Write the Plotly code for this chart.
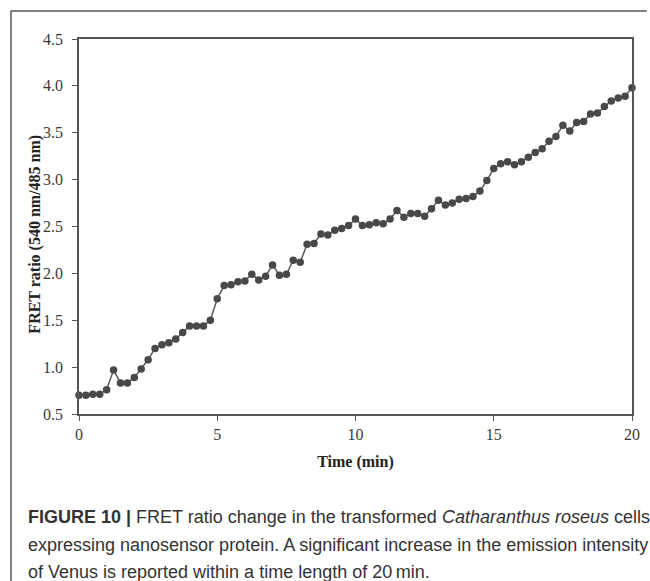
import plotly.graph_objects as go

time_min = [i * 0.25 for i in range(81)]
fret_ratio = [
    0.70, 0.70, 0.71, 0.71, 0.76, 0.97, 0.83, 0.83, 0.89, 0.98,
    1.08, 1.20, 1.24, 1.26, 1.30, 1.37, 1.44, 1.44, 1.44, 1.50,
    1.73, 1.87, 1.88, 1.91, 1.92, 1.99, 1.93, 1.97, 2.09, 1.98,
    1.99, 2.14, 2.12, 2.31, 2.32, 2.42, 2.41, 2.46, 2.48, 2.51,
    2.58, 2.51, 2.52, 2.54, 2.53, 2.58, 2.67, 2.60, 2.64, 2.64,
    2.61, 2.69, 2.78, 2.73, 2.75, 2.79, 2.80, 2.82, 2.88, 2.99,
    3.12, 3.17, 3.19, 3.16, 3.19, 3.24, 3.29, 3.33, 3.41, 3.46,
    3.58, 3.52, 3.61, 3.62, 3.70, 3.71, 3.78, 3.84, 3.87, 3.89,
    3.98,
]
x_ticks = [0, 5, 10, 15, 20]
y_ticks = [0.5, 1.0, 1.5, 2.0, 2.5, 3.0, 3.5, 4.0, 4.5]

W, H = 650, 581
ML, MR, MT, MB = 79, 10, 39, 167
PW, PH = W - ML - MR, H - MT - MB


def px(x):
    return (x - ML) / PW


def py(y):
    return (H - MB - y) / PH


fig = go.Figure()
fig.add_trace(go.Scatter(
    x=time_min, y=fret_ratio, mode="lines+markers",
    line=dict(color="#595959", width=1.5),
    marker=dict(color="#484848", size=7.5),
    cliponaxis=False, showlegend=False,
))

serif = "Liberation Serif, Times New Roman, serif"
axis_font = dict(family=serif, size=16, color="#3a3a3a")
title_font = dict(family=serif, size=16, color="#222222")

fig.update_xaxes(
    range=[0, 20], tickvals=x_ticks, ticktext=[str(v) for v in x_ticks],
    showline=True, linecolor="#555555", linewidth=1.5, mirror=True,
    ticks="outside", ticklen=5, tickcolor="#555555", tickwidth=1.2,
    showgrid=False, zeroline=False, tickfont=axis_font,
    title=dict(text="<b>Time (min)</b>", font=title_font, standoff=14),
)
fig.update_yaxes(
    range=[0.5, 4.5], tickvals=y_ticks, ticktext=[f"{v:.1f}" for v in y_ticks],
    showline=True, linecolor="#555555", linewidth=1.5, mirror=True,
    ticks="outside", ticklen=5, tickcolor="#555555", tickwidth=1.2,
    ticklabelstandoff=6,
    showgrid=False, zeroline=False, tickfont=axis_font,
)

fig.add_annotation(
    x=px(34), y=py(234), xref="paper", yref="paper",
    text="<b>FRET ratio (540 nm/485 nm)</b>", textangle=-90,
    showarrow=False, xanchor="center", yanchor="middle", font=title_font,
)

cap_font = dict(family="Liberation Sans, Arial, sans-serif", size=18, color="#333333")
captions = [
    "<b>FIGURE 10 |</b> FRET ratio change in the transformed <i>Catharanthus roseus</i> cells",
    "expressing nanosensor protein. A significant increase in the emission intensity",
    "of Venus is reported within a time length of 20\u2009min.",
]
cap_y = [517, 545, 572]
for text, yy in zip(captions, cap_y):
    fig.add_annotation(
        x=px(25), y=py(yy), xref="paper", yref="paper", text=text,
        showarrow=False, xanchor="left", yanchor="middle", align="left", font=cap_font,
    )

frame = dict(color="#555555", width=1.5)
fig.add_shape(type="line", xref="paper", yref="paper",
              x0=px(10), x1=px(W + 5), y0=py(11), y1=py(11), line=frame)
fig.add_shape(type="line", xref="paper", yref="paper",
              x0=px(10), x1=px(10), y0=py(11), y1=py(H + 5), line=frame)

fig.update_layout(
    width=W, height=H, margin=dict(l=ML, r=MR, t=MT, b=MB),
    paper_bgcolor="white", plot_bgcolor="white",
)
fig.write_html("out.html")
